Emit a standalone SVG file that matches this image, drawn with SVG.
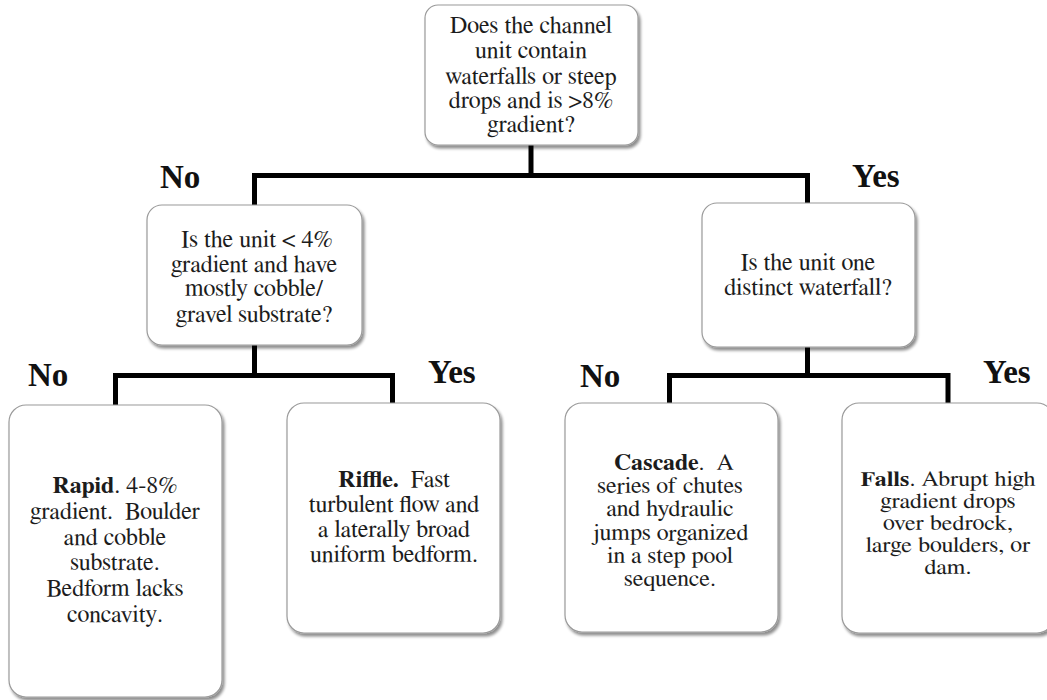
<svg xmlns="http://www.w3.org/2000/svg" width="1047" height="700" viewBox="0 0 1047 700">
  <defs>
    <filter id="shadow" x="-10%" y="-10%" width="125%" height="125%">
      <feGaussianBlur in="SourceAlpha" stdDeviation="1.6"/>
      <feOffset dx="2" dy="3" result="off"/>
      <feComponentTransfer><feFuncA type="linear" slope="0.45"/></feComponentTransfer>
      <feMerge><feMergeNode/><feMergeNode in="SourceGraphic"/></feMerge>
    </filter>
  </defs>
  <style>
    .box { fill: #ffffff; stroke: #9a9a9a; stroke-width: 1.2; filter: url(#shadow); }
    .wire { fill: none; stroke: #000000; stroke-width: 5; stroke-linejoin: miter; }
  </style>
  <rect width="1047" height="700" fill="#ffffff"/>

  <!-- connectors -->
  <g id="connectors">
    <path class="wire" d="M531,145 V175.5"/>
    <path class="wire" d="M254.5,205 V175.5 H807.5 V203"/>
    <path class="wire" d="M254.5,345 V375.5"/>
    <path class="wire" d="M115.5,405 V375.5 H392.5 V403"/>
    <path class="wire" d="M807.5,347 V375.5"/>
    <path class="wire" d="M669.5,403 V375.5 H948 V403"/>
  </g>

  <!-- branch labels -->
  <g id="labels" font-family="Liberation Serif, FreeSerif, serif" font-size="33" font-weight="bold" fill="#111111">
    <text x="160" y="188">No</text>
    <text x="852" y="187">Yes</text>
    <text x="28" y="386">No</text>
    <text x="428" y="383">Yes</text>
    <text x="580" y="387">No</text>
    <text x="983" y="383">Yes</text>
  </g>

  <g id="q-steep">
    <rect class="box" x="425" y="5" width="213" height="140" rx="13"/>
    <g font-family="FreeSerif, TeX Gyre Termes, Liberation Serif, serif" font-size="24" fill="#1c1c1c" text-anchor="middle">
      <text x="531" y="33">Does the channel</text>
      <text x="531" y="58">unit contain</text>
      <text x="531" y="84">waterfalls or steep</text>
      <text x="531" y="108">drops and is &gt;8%</text>
      <text x="531" y="132">gradient?</text>
    </g>
  </g>

  <g id="q-gradient">
    <rect class="box" x="147" y="205" width="215" height="140" rx="15"/>
    <g font-family="FreeSerif, TeX Gyre Termes, Liberation Serif, serif" font-size="24" fill="#1c1c1c" text-anchor="middle">
      <text x="257" y="247">Is the unit &lt; 4%</text>
      <text x="254" y="272">gradient and have</text>
      <text x="254" y="296">mostly cobble/</text>
      <text x="254" y="322">gravel substrate?</text>
    </g>
  </g>

  <g id="q-waterfall">
    <rect class="box" x="702" y="203" width="213" height="144" rx="15"/>
    <g font-family="FreeSerif, TeX Gyre Termes, Liberation Serif, serif" font-size="24" fill="#1c1c1c" text-anchor="middle">
      <text x="808" y="270">Is the unit one</text>
      <text x="808" y="295">distinct waterfall?</text>
    </g>
  </g>

  <g id="rapid">
    <rect class="box" x="9" y="405" width="213" height="292" rx="17"/>
    <g font-family="FreeSerif, TeX Gyre Termes, Liberation Serif, serif" font-size="24" fill="#1c1c1c" text-anchor="middle">
      <text x="115" y="493"><tspan font-weight="bold">Rapid</tspan>. 4-8%</text>
      <text x="115" y="519" xml:space="preserve">gradient.  Boulder</text>
      <text x="115" y="545">and cobble</text>
      <text x="115" y="570">substrate.</text>
      <text x="115" y="596">Bedform lacks</text>
      <text x="115" y="622">concavity.</text>
    </g>
  </g>

  <g id="riffle">
    <rect class="box" x="287" y="403" width="213" height="230" rx="17"/>
    <g font-family="FreeSerif, TeX Gyre Termes, Liberation Serif, serif" font-size="24" fill="#1c1c1c" text-anchor="middle">
      <text x="394" y="487" xml:space="preserve"><tspan font-weight="bold">Riffle.</tspan>  Fast</text>
      <text x="394" y="512">turbulent flow and</text>
      <text x="394" y="537">a laterally broad</text>
      <text x="394" y="562">uniform bedform.</text>
    </g>
  </g>

  <g id="cascade">
    <rect class="box" x="565" y="403" width="213" height="229" rx="17"/>
    <g font-family="FreeSerif, TeX Gyre Termes, Liberation Serif, serif" font-size="24" fill="#1c1c1c" text-anchor="middle" transform="translate(0,470) scale(1,0.93) translate(0,-470)">
      <text x="674" y="470" xml:space="preserve"><tspan font-weight="bold">Cascade</tspan>.  A</text>
      <text x="670" y="495">series of chutes</text>
      <text x="670" y="520">and hydraulic</text>
      <text x="670" y="545">jumps organized</text>
      <text x="670" y="570">in a step pool</text>
      <text x="670" y="595">sequence.</text>
    </g>
  </g>

  <g id="falls">
    <rect class="box" x="842" y="403" width="212" height="230" rx="17"/>
    <g font-family="FreeSerif, TeX Gyre Termes, Liberation Serif, serif" font-size="24" fill="#1c1c1c" text-anchor="middle" transform="translate(0,486) scale(1,0.88) translate(0,-486)">
      <text x="948" y="486"><tspan font-weight="bold">Falls</tspan>. Abrupt high</text>
      <text x="948" y="511">gradient drops</text>
      <text x="948" y="536">over bedrock,</text>
      <text x="948" y="561">large boulders, or</text>
      <text x="948" y="586">dam.</text>
    </g>
  </g>
</svg>
